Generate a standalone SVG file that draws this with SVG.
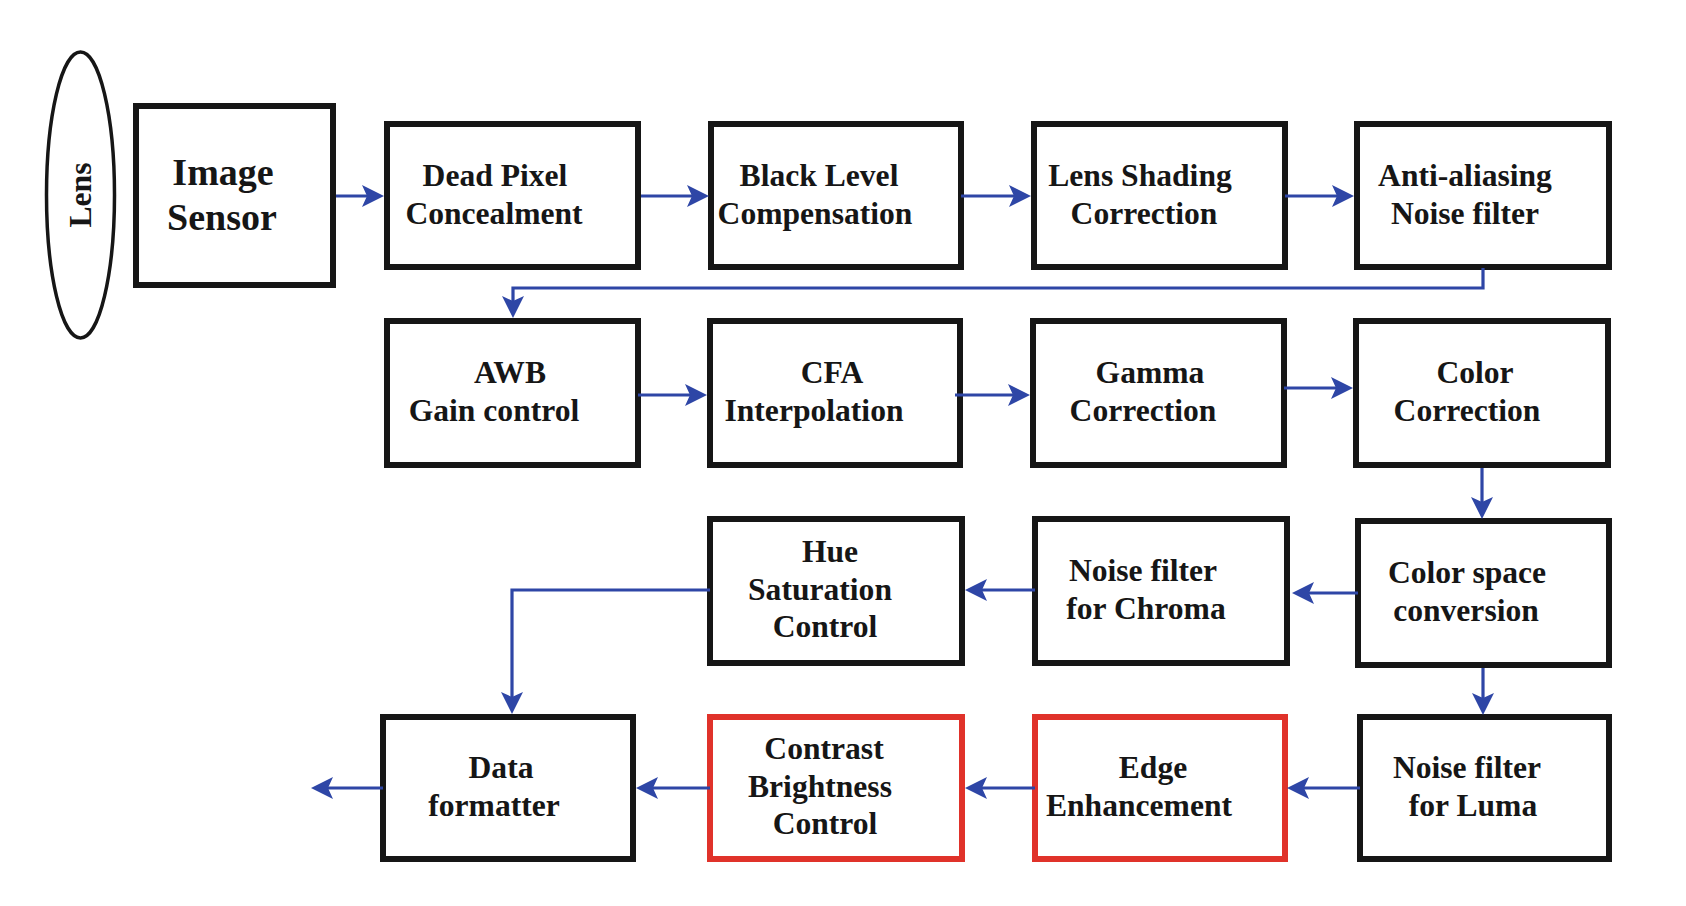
<svg xmlns="http://www.w3.org/2000/svg" width="1686" height="906" viewBox="0 0 1686 906">
<defs>
<style>
.box{fill:#fff;stroke:#161616;stroke-width:6;}
.red{fill:#fff;stroke:#e0322a;stroke-width:6;}
.t{font-family:"Liberation Serif","Times New Roman",serif;font-weight:bold;font-size:31.6px;fill:#161616;text-anchor:middle;}
.big{font-size:38px;}
.c{fill:none;stroke:#2e46a6;stroke-width:3.2;marker-end:url(#ah);}
</style>
<marker id="ah" viewBox="0 0 22 22" refX="16" refY="11" markerWidth="22" markerHeight="22" markerUnits="userSpaceOnUse" orient="auto">
<path d="M0,0 L22,11 L0,22 L5,11 Z" fill="#2e46a6"/>
</marker>
</defs>
<rect width="1686" height="906" fill="#fff"/>

<g id="lens">
<ellipse cx="80.5" cy="195" rx="34" ry="143" fill="#fff" stroke="#161616" stroke-width="3.5"/>
<text class="t" transform="translate(91,195) rotate(-90)" x="0" y="0">Lens</text>
</g>
<g id="image-sensor">
<rect class="box" x="136" y="106" width="197" height="179"/>
<text class="t big" x="223" y="185">Image</text>
<text class="t big" x="222" y="230">Sensor</text>
</g>
<g id="dead-pixel">
<rect class="box" x="387" y="124" width="251" height="143"/>
<text class="t" x="495" y="186">Dead Pixel</text>
<text class="t" x="494" y="224">Concealment</text>
</g>
<g id="black-level">
<rect class="box" x="711" y="124" width="250" height="143"/>
<text class="t" x="819" y="186">Black Level</text>
<text class="t" x="815" y="224">Compensation</text>
</g>
<g id="lens-shading">
<rect class="box" x="1034" y="124" width="251" height="143"/>
<text class="t" x="1140" y="186">Lens Shading</text>
<text class="t" x="1144" y="224">Correction</text>
</g>
<g id="anti-aliasing">
<rect class="box" x="1357" y="124" width="252" height="143"/>
<text class="t" x="1465" y="186">Anti-aliasing</text>
<text class="t" x="1465" y="224">Noise filter</text>
</g>

<g id="awb">
<rect class="box" x="387" y="321" width="251" height="144"/>
<text class="t" x="510" y="383">AWB</text>
<text class="t" x="494" y="421">Gain control</text>
</g>
<g id="cfa">
<rect class="box" x="710" y="321" width="250" height="144"/>
<text class="t" x="832" y="383">CFA</text>
<text class="t" x="814" y="421">Interpolation</text>
</g>
<g id="gamma">
<rect class="box" x="1033" y="321" width="251" height="144"/>
<text class="t" x="1150" y="383">Gamma</text>
<text class="t" x="1143" y="421">Correction</text>
</g>
<g id="color-correction">
<rect class="box" x="1356" y="321" width="252" height="144"/>
<text class="t" x="1475" y="383">Color</text>
<text class="t" x="1467" y="421">Correction</text>
</g>

<g id="hue-saturation">
<rect class="box" x="710" y="519" width="252" height="144"/>
<text class="t" x="830" y="562">Hue</text>
<text class="t" x="820" y="600">Saturation</text>
<text class="t" x="825" y="637">Control</text>
</g>
<g id="noise-chroma">
<rect class="box" x="1035" y="519" width="252" height="144"/>
<text class="t" x="1143" y="581">Noise filter</text>
<text class="t" x="1146" y="619">for Chroma</text>
</g>
<g id="color-space">
<rect class="box" x="1358" y="521" width="251" height="144"/>
<text class="t" x="1467" y="583">Color space</text>
<text class="t" x="1466" y="621">conversion</text>
</g>

<g id="data-formatter">
<rect class="box" x="383" y="717" width="250" height="142"/>
<text class="t" x="501" y="778">Data</text>
<text class="t" x="494" y="816">formatter</text>
</g>
<g id="contrast">
<rect class="red" x="710" y="717" width="252" height="142"/>
<text class="t" x="824" y="759">Contrast</text>
<text class="t" x="820" y="797">Brightness</text>
<text class="t" x="825" y="834">Control</text>
</g>
<g id="edge">
<rect class="red" x="1035" y="717" width="250" height="142"/>
<text class="t" x="1153" y="778">Edge</text>
<text class="t" x="1139" y="816">Enhancement</text>
</g>
<g id="noise-luma">
<rect class="box" x="1360" y="717" width="249" height="142"/>
<text class="t" x="1467" y="778">Noise filter</text>
<text class="t" x="1473" y="816">for Luma</text>
</g>

<g id="connectors">
<path class="c" d="M336,196 H378"/>
<path class="c" d="M641,196 H703"/>
<path class="c" d="M961,196 H1025"/>
<path class="c" d="M1285,196 H1348"/>
<path class="c" d="M1483,268 V288 H513 V312"/>
<path class="c" d="M638,395 H701"/>
<path class="c" d="M955,395 H1024"/>
<path class="c" d="M1284,388 H1347"/>
<path class="c" d="M1482,468 V513"/>
<path class="c" d="M1358,593 H1298"/>
<path class="c" d="M1035,590 H971"/>
<path class="c" d="M710,590 H512 V708"/>
<path class="c" d="M1483,668 V709"/>
<path class="c" d="M1360,788 H1293"/>
<path class="c" d="M1035,788 H971"/>
<path class="c" d="M710,788 H642"/>
<path class="c" d="M383,788 H317"/>
</g>
</svg>
